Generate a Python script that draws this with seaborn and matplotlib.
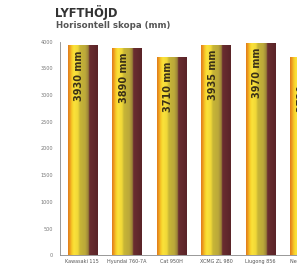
import matplotlib
matplotlib.use('Agg')
import matplotlib.pyplot as plt
import seaborn as sns
import pandas as pd
import numpy as np
from matplotlib.colors import LinearSegmentedColormap

# Lyfthöjd, horisontell skopa (mm)
models = ['Kawasaki 115', 'Hyundai 760-7A', 'Cat 950H', 'XCMG ZL 980', 'Liugong 856', 'New Holland']
heights = [3930, 3890, 3710, 3935, 3970, 3720]
bar_labels = ['3930 mm', '3890 mm', '3710 mm', '3935 mm', '3970 mm', '3720 mm']

df = pd.DataFrame({'modell': models, 'hojd': heights})

sns.set_style('white')
plt.rcParams['font.family'] = ['DejaVu Sans']

fig = plt.figure(figsize=(2.97, 2.69), dpi=100)
ax = fig.add_axes([0.202, 0.051, 0.90, 0.794])

sns.barplot(data=df, x='modell', y='hojd', color='#5a2630', width=0.66, ax=ax)

# gradient: orange -> yellow -> olive -> maroon
grad = LinearSegmentedColormap.from_list('bar', [
    (0.0, '#e07a1c'), (0.07, '#eea020'), (0.13, '#f6cc28'), (0.20, '#fbe23a'),
    (0.33, '#f0d838'), (0.40, '#c8b636'), (0.58, '#bba83a'), (0.68, '#9a8238'),
    (0.72, '#6a2e30'), (1.0, '#5a2428')])
img = np.linspace(0, 1, 256).reshape(1, -1)
for p in ax.patches:
    x0, y0 = p.get_x(), p.get_y()
    w, h = p.get_width(), p.get_height()
    im = ax.imshow(img, cmap=grad, extent=[x0, x0 + w, y0, y0 + h],
                   aspect='auto', zorder=p.get_zorder() + 0.1)
    im.set_clip_path(p)

for i, (v, t) in enumerate(zip(heights, bar_labels)):
    ax.text(i - 0.07, v - 90, t, rotation=90, ha='center', va='top',
            fontsize=7, fontweight='bold', color='#3a3018', zorder=5, clip_on=True)

ax.set_xlim(-0.5, 5.5)
ax.set_ylim(0, 4000)
ax.set_yticks(np.arange(0, 4001, 500))
ax.set_xticks(np.arange(-0.5, 6, 1), minor=True)
ax.tick_params(axis='y', labelsize=3.5, colors='#777777', length=3, width=0.5, pad=2)
ax.tick_params(axis='x', which='major', labelsize=3.5, colors='#555555', length=0, pad=3)
ax.tick_params(axis='x', which='minor', length=2, width=0.5, color='#888888')
ax.set_xlabel('')
ax.set_ylabel('')
for s in ['top', 'right']:
    ax.spines[s].set_visible(False)
for s in ['left', 'bottom']:
    ax.spines[s].set_color('#888888')
    ax.spines[s].set_linewidth(0.6)

fig.text(0.185, 0.955, 'LYFTHÖJD', fontsize=8.3, fontweight='bold', color='#333333', va='center')
fig.text(0.19, 0.905, 'Horisontell skopa (mm)', fontsize=6.2, fontweight='bold', color='#555555', va='center')

fig.savefig('out.png', dpi=100)
